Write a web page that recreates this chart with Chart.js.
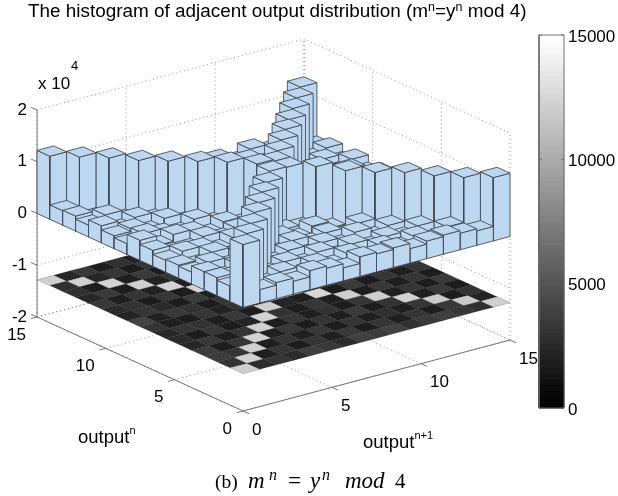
<!DOCTYPE html>
<html><head><meta charset="utf-8">
<style>html,body{margin:0;padding:0;background:#fff}canvas{display:block}</style>
<script src="https://cdn.jsdelivr.net/npm/chart.js@4/dist/chart.umd.js"></script>
</head><body><canvas id="c" width="618" height="496"></canvas>
<script>
// histogram counts: row index = output^n, column index = output^(n+1)
const row0 =[12170,2600,3100,2500,3700,3300,2500,3800,3500,3800,2800,3400,3700,3200,2800,12240];
const row1 =[3000,12300,1800,3200,1700,3100,1900,3300,1700,3100,1900,3200,1700,3300,11960,2100];
const row2 =[3500,3100,12250,1800,3100,1900,3300,1700,3100,1800,2800,1900,3200,12020,1700,3000];
const row3 =[3500,1700,3200,12400,1900,3300,1700,3100,1800,3400,1700,3000,12370,1900,3300,1700];
const row4 =[2300,3300,1800,3100,12300,1700,3200,1900,3000,1700,3200,12110,1800,3100,1700,3400];
const row5 =[2500,1700,3300,1700,2100,12350,3000,1700,3200,1900,12170,1700,3300,1800,3200,1700];
const row6 =[2300,3200,3000,1800,3300,1700,12200,2200,1800,12680,1700,3400,1700,3200,1800,3100];
const row7 =[3100,1800,1700,3200,2000,3100,1700,12400,12270,1800,3000,1900,3200,1700,3100,2000];
const row8 =[3900,2000,3300,3000,1700,3200,2000,12650,12300,1700,3300,1700,2900,2000,3300,1700];
const row9 =[2100,3200,2400,1700,3400,1900,12700,1800,3000,12350,1800,3200,1700,3100,1800,2900];
const row10=[2500,3000,1700,3300,1700,12560,1700,3200,1800,2900,12450,1700,3300,1700,3400,1900];
const row11=[3300,1800,3200,2000,12350,1800,3500,1600,3300,1700,3000,12500,1800,3200,1700,3300];
const row12=[2300,3400,1700,12200,2000,3200,1700,3100,1800,3400,1700,3300,12400,1900,3000,1700];
const row13=[2900,1700,12400,1800,3400,1700,3300,1700,3200,1900,2800,1700,3400,12550,2000,3200];
const row14=[2800,12300,2300,3200,1700,3100,1800,3400,1700,2900,2200,3200,1700,3100,12600,2400];
const row15=[12200,2300,3300,1700,2900,2000,3200,1900,2800,2000,3000,1700,3300,2100,2700,12700];
const counts=[row0,row1,row2,row3,row4,row5,row6,row7,row8,row9,row10,row11,row12,row13,row14,row15];
const outputTicks=[0,5,10,15];
const heightTicks=[-2,-1,0,1,2];
const colorTicks=[0,5000,10000,15000];

const W=618,H=496,PX=51.75,FLOOR=-1.28,CMAX=15000;
const Z0=213.5,CB0=408,CBPX=373/CMAX,CBL=539,CBR=564;
function P(x,y,z){return {x:243+17.8*x-13.73*y, y:411-4.733*x-6.267*y-(z+2)*PX};}
const cell=i=>i*15/16;
const ds=[];
function add(points,o){ds.push(Object.assign({data:points,showLine:true,pointRadius:0,tension:0,fill:false,borderWidth:0.8,borderColor:'#555',borderJoinStyle:'round',borderCapStyle:'butt'},o));}
const DOT={borderDash:[1,3],borderWidth:0.8,borderColor:'#777'};
const AX={borderWidth:0.9,borderColor:'#6a6a6a'};
function poly(pts,fill,stroke,w){add(pts.concat([pts[0]]),{fill:'shape',backgroundColor:fill,borderColor:stroke,borderWidth:w});}
// dotted walls and ground grid
heightTicks.forEach(z=>{add([P(0,15,z),P(15,15,z),P(15,0,z)],DOT);});
outputTicks.forEach(t=>{
  add([P(t,15,-2),P(t,15,2)],DOT);
  add([P(15,t,-2),P(15,t,2)],DOT);
  add([P(t,0,-2),P(t,15,-2)],DOT);
  add([P(0,t,-2),P(15,t,-2)],DOT);
});
// solid axes and ticks
add([P(0,15,-2),P(0,15,2)],AX);
add([P(0,15,-2),P(0,0,-2),P(15,0,-2)],AX);
heightTicks.forEach(z=>{add([P(0,15,z),P(0,15.45,z)],AX);});
outputTicks.forEach(t=>{
  add([P(0,t,-2),P(-0.35,t,-2)],AX);
  add([P(t,0,-2),P(t,-0.45,-2)],AX);
});
// ground colour map
const grayOf=v=>{const g=Math.round(Math.min(1,v/CMAX)*255);return `rgb(${g},${g},${g})`;};
for(let s=30;s>=0;s--)for(let y=0;y<16;y++){const x=s-y;if(x<0||x>15)continue;
  poly([P(cell(x),cell(y),FLOOR),P(cell(x+1),cell(y),FLOOR),P(cell(x+1),cell(y+1),FLOOR),P(cell(x),cell(y+1),FLOOR)],grayOf(counts[y][x]),'rgba(15,15,15,0.55)',0.35);
}
// bars, far corner first
const BAR='rgb(189,215,241)',EDGE='#3f444d';
for(let s=30;s>=0;s--)for(let y=15;y>=0;y--){const x=s-y;if(x<0||x>15)continue;
  const h=counts[y][x]/10000,x0=cell(x),x1=cell(x+1),y0=cell(y),y1=cell(y+1);
  poly([P(x0,y0,0),P(x0,y1,0),P(x0,y1,h),P(x0,y0,h)],BAR,EDGE,0.85);
  poly([P(x0,y0,0),P(x1,y0,0),P(x1,y0,h),P(x0,y0,h)],BAR,EDGE,0.85);
  poly([P(x0,y0,h),P(x1,y0,h),P(x1,y1,h),P(x0,y1,h)],BAR,EDGE,0.85);
}
// colour bar, drawn on its own value scale
const LEVELS=64;
for(let i=0;i<LEVELS;i++){const a=i/LEVELS*CMAX,b=(i+1)/LEVELS*CMAX,g=Math.round(i/(LEVELS-1)*255),c=`rgb(${g},${g},${g})`;
  add([{x:CBL,y:a},{x:CBR,y:a},{x:CBR,y:b},{x:CBL,y:b},{x:CBL,y:a}],{fill:'shape',backgroundColor:c,borderColor:c,borderWidth:1,yAxisID:'cb'});
}
add([{x:CBL,y:0},{x:CBR,y:0},{x:CBR,y:CMAX},{x:CBL,y:CMAX},{x:CBL,y:0}],{borderColor:'#666',borderWidth:0.9,yAxisID:'cb'});
colorTicks.forEach(v=>{
  add([{x:CBL,y:v},{x:CBL+3,y:v}],{borderColor:'#666',borderWidth:0.8,yAxisID:'cb'});
  add([{x:CBR-3,y:v},{x:CBR,y:v}],{borderColor:'#666',borderWidth:0.8,yAxisID:'cb'});
});
ds.forEach((d,i)=>{d.order=ds.length-i;});

const SANS='"Liberation Sans",Arial,sans-serif',SERIF='"Liberation Serif","Times New Roman",serif';
function runs(ctx,x,y,list){ // consecutive text pieces with own font and baseline shift
  list.forEach(r=>{ctx.font=r.f;ctx.textAlign='left';ctx.textBaseline='alphabetic';ctx.fillStyle='#000';
    const px=r.at!==undefined?r.at:x;ctx.fillText(r.t,px,y+(r.dy||0));x=px+ctx.measureText(r.t).width;});
}
const textPlugin={id:'texts',afterDraw(chart){
  const ctx=chart.ctx;ctx.save();
  const T=`18.9px ${SANS}`,TS=`12.5px ${SANS}`;
  runs(ctx,28,17,[{t:'The histogram of adjacent output distribution (m',f:T},{t:'n',f:TS,dy:-6},{t:'=y',f:T},{t:'n',f:TS,dy:-6},{t:' mod 4)',f:T}]);
  const L=`17px ${SANS}`;
  runs(ctx,38,89,[{t:'x 10',f:L}]);
  runs(ctx,71,70,[{t:'4',f:`13px ${SANS}`}]);
  ctx.font=L;ctx.fillStyle='#000';ctx.textBaseline='middle';
  outputTicks.forEach(t=>{
    const a=P(0,t,-2);ctx.textAlign='right';ctx.fillText(String(t),a.x-11,a.y+18);
    const b=P(t,0,-2);ctx.textAlign='left';ctx.fillText(String(t),b.x+9,b.y+19);
  });
  colorTicks.forEach(v=>{ctx.textAlign='left';ctx.fillText(String(v),568,chart.scales.cb.getPixelForValue(v)+2);});
  const A=`18.5px ${SANS}`,AS=`11px ${SANS}`;
  runs(ctx,78,443,[{t:'output',f:A},{t:'n',f:AS,dy:-9}]);
  runs(ctx,363,448,[{t:'output',f:A},{t:'n+1',f:AS,dy:-9}]);
  const C=`19.5px ${SERIF}`,CI=`italic 23px ${SERIF}`,CS=`italic 16px ${SERIF}`;
  runs(ctx,215,488,[{t:'(b)',f:C},{t:'m',f:CI,at:248},{t:'n',f:CS,dy:-8,at:269},{t:'=',f:`23px ${SERIF}`,at:288},{t:'y',f:CI,at:310},{t:'n',f:CS,dy:-8,at:322},{t:'mod',f:CI,at:345},{t:'4',f:`21px ${SERIF}`,at:395}]);
  ctx.restore();
}};
new Chart(document.getElementById('c'),{
  type:'scatter',
  data:{datasets:ds},
  plugins:[textPlugin],
  options:{
    responsive:false,animation:false,events:[],
    layout:{padding:0},
    plugins:{legend:{display:false},tooltip:{enabled:false},title:{display:false}},
    scales:{
      x:{type:'linear',min:0,max:W,display:false},
      y:{type:'linear',min:0,max:H,reverse:true,display:false},
      z:{type:'linear',axis:'y',position:{x:27},min:-(H-Z0)/PX,max:Z0/PX,
         grid:{display:false,drawTicks:false},border:{display:false},
         afterBuildTicks(s){s.ticks=heightTicks.map(v=>({value:v}));},
         afterFit(s){s.paddingTop=0;s.paddingBottom=0;s.paddingLeft=0;s.paddingRight=0;},
         ticks:{color:'#000',padding:0,autoSkip:false,font:{family:'Liberation Sans',size:17},callback:v=>String(v)}},
      cb:{type:'linear',axis:'y',position:{x:CBR},min:-(H-CB0)/CBPX,max:CB0/CBPX,
         grid:{display:false,drawTicks:false},border:{display:false},
         afterBuildTicks(s){s.ticks=colorTicks.map(v=>({value:v}));},
         afterFit(s){s.paddingTop=0;s.paddingBottom=0;s.paddingLeft=0;s.paddingRight=0;},
         ticks:{display:false}}
    }
  }
});
</script></body></html>
